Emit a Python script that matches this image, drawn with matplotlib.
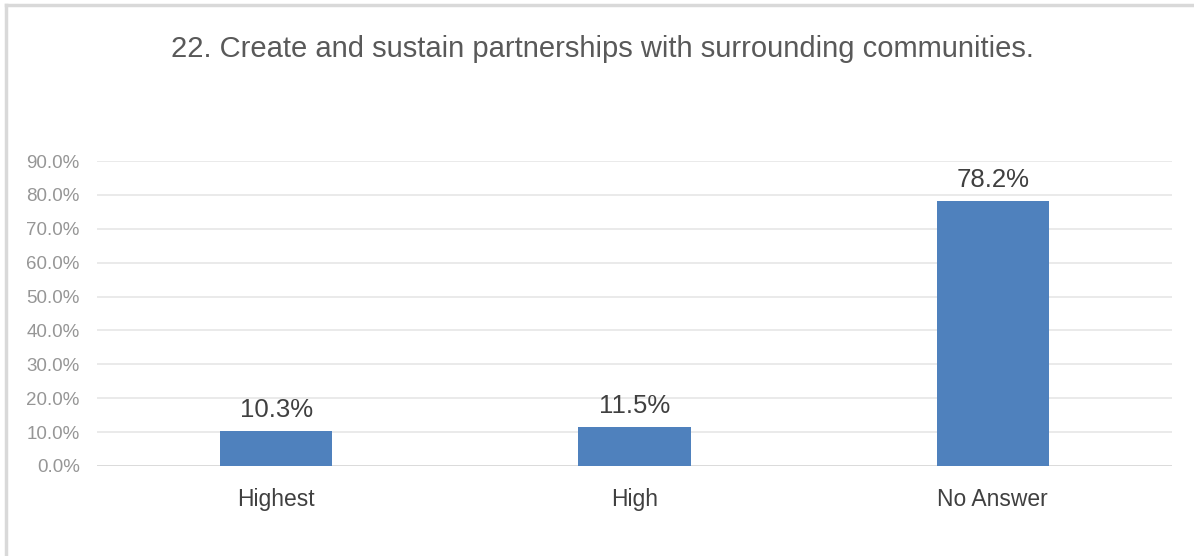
import matplotlib
matplotlib.use("Agg")
import matplotlib.pyplot as plt
from matplotlib.lines import Line2D

categories = ["Highest", "High", "No Answer"]
values = [10.3, 11.5, 78.2]
yticks = [0, 10, 20, 30, 40, 50, 60, 70, 80, 90]
title = "22. Create and sustain partnerships with surrounding communities."

plt.rcParams['font.family'] = ['Liberation Sans', 'DejaVu Sans']

W, H = 1194, 556
fig = plt.figure(figsize=(W / 100, H / 100), dpi=100)
ax = fig.add_axes([97 / W, 1 - 466 / H, (1172 - 97) / W, (466 - 161) / H])

x = list(range(len(categories)))
bars = ax.bar(x, values, width=0.313, color="#4F81BD", zorder=3)
for xi, v in zip(x, values):
    ax.text(xi, v + 2.7, f"{v:.1f}%", ha="center", va="bottom",
            fontsize=18.5, color="#404040")

ax.set_xlim(-0.5, 2.5)
ax.set_ylim(0, 90)
ax.set_yticks(yticks)
ax.set_yticklabels([f"{t:.1f}%" for t in yticks], fontsize=13.5, color="#969696")
ax.set_xticks(x)
ax.set_xticklabels(categories, fontsize=16.5, color="#404040")
ax.tick_params(axis='both', length=0)
ax.tick_params(axis='y', pad=12.5)
ax.tick_params(axis='x', pad=16)
ax.grid(axis='y', color="#E6E6E6", linewidth=1.2, zorder=0)
for s in ax.spines.values():
    s.set_visible(False)
ax.axhline(0, color="#D9D9D9", linewidth=1.2, zorder=2)

fig.text(602 / W, 1 - 49 / H, title, ha="center", va="center",
         fontsize=21, color="#595959")

fig.add_artist(Line2D([6 / W, 6 / W], [0, 1 - 5 / H], color="#D9D9D9", linewidth=2.5))
fig.add_artist(Line2D([6 / W, 1], [1 - 5 / H, 1 - 5 / H], color="#D9D9D9", linewidth=2.5))

fig.savefig("out.png", dpi=100)
